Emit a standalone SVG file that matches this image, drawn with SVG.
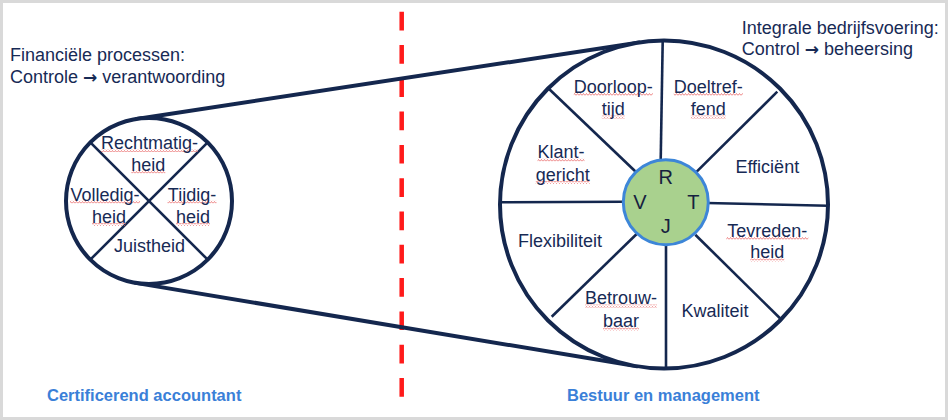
<svg xmlns="http://www.w3.org/2000/svg" width="948" height="420" viewBox="0 0 948 420">
  <defs>
    <pattern id="zig" width="3" height="3" patternUnits="userSpaceOnUse">
      <path d="M0 2.5 L1.5 0.5 L3 2.5" fill="none" stroke="#e86a6a" stroke-width="0.8"/>
    </pattern>
    <style>
      .lbl { font-family: "Liberation Sans", Arial, sans-serif; font-size: 18px; fill: #172a55; text-anchor: middle; }
      .hdr { font-family: "Liberation Sans", Arial, sans-serif; font-size: 18px; fill: #172a55; }
      .arr { font-family: "DejaVu Sans", sans-serif; font-weight: bold; font-size: 17px; }
      .big { font-family: "Liberation Sans", Arial, sans-serif; font-size: 20px; fill: #16213f; text-anchor: middle; }
      .foot { font-family: "Liberation Sans", Arial, sans-serif; font-size: 16.5px; font-weight: bold; fill: #3a80d8; }
      .ring { fill: #ffffff; stroke: #14274e; stroke-width: 4; }
      .spoke { stroke: #14274e; stroke-width: 2.6; fill: none; }
      .belt { stroke: #14274e; stroke-width: 4; fill: none; stroke-linecap: round; }
      .sq { fill: url(#zig); }
    </style>
  </defs>

  <rect x="1.5" y="1.5" width="945" height="417" fill="#ffffff" stroke="#d9d9d9" stroke-width="3"/>

  <!-- divider -->
  <line x1="401.7" y1="11.7" x2="401.7" y2="397" stroke="#ff1a1a" stroke-width="4.5" stroke-dasharray="18.7 14.6"/>

  <!-- connectors (belt) -->
  <g id="connectors">
    <line class="belt" x1="136.5" y1="119" x2="639.3" y2="42.4"/>
    <line class="belt" x1="135.4" y1="282.9" x2="637.1" y2="366.3"/>
  </g>

  <!-- headers -->
  <g id="header-left">
    <text class="hdr" x="10" y="61">Financiële processen:</text>
    <text class="hdr" x="10" y="83">Controle <tspan class="arr">→</tspan> verantwoording</text>
  </g>
  <g id="header-right">
    <text class="hdr" x="741.7" y="33.5">Integrale bedrijfsvoering:</text>
    <text class="hdr" x="741.7" y="55">Control <tspan class="arr">→</tspan> beheersing</text>
  </g>

  <!-- left circle -->
  <g id="left-circle">
    <circle class="ring" cx="149" cy="201" r="83"/>
    <line class="spoke" x1="90.3" y1="142.3" x2="207.7" y2="259.7"/>
    <line class="spoke" x1="207.7" y1="142.3" x2="90.3" y2="259.7"/>
    <rect class="sq" x="101" y="149" width="97" height="3"/>
    <rect class="sq" x="131.3" y="170.5" width="34" height="3"/>
    <rect class="sq" x="70" y="200.5" width="70" height="3"/>
    <rect class="sq" x="92" y="223" width="34" height="3"/>
    <rect class="sq" x="167.5" y="200.5" width="49" height="3"/>
    <rect class="sq" x="176" y="223" width="34" height="3"/>
    <text class="lbl" x="149.5" y="149.3">Rechtmatig-</text>
    <text class="lbl" x="148.3" y="170.7">heid</text>
    <text class="lbl" x="105" y="200.7">Volledig-</text>
    <text class="lbl" x="109" y="223.3">heid</text>
    <text class="lbl" x="192" y="200.7">Tijdig-</text>
    <text class="lbl" x="193" y="223.3">heid</text>
    <text class="lbl" x="149.5" y="251.7">Juistheid</text>
  </g>

  <!-- right circle -->
  <g id="right-circle">
    <circle class="ring" cx="664" cy="204.5" r="164"/>
    <line class="spoke" x1="662.7" y1="41" x2="660.7" y2="160"/>
    <line class="spoke" x1="666" y1="244" x2="666" y2="369"/>
    <line class="spoke" x1="500" y1="202.3" x2="624" y2="201.7"/>
    <line class="spoke" x1="707" y1="203" x2="828" y2="205.7"/>
    <line class="spoke" x1="548.3" y1="88.3" x2="636" y2="172"/>
    <line class="spoke" x1="777.3" y1="91.7" x2="694.7" y2="173.7"/>
    <line class="spoke" x1="551.7" y1="316.7" x2="637.7" y2="233"/>
    <line class="spoke" x1="780" y1="318.3" x2="695.3" y2="234.7"/>

    <rect class="sq" x="573.8" y="93" width="79" height="3"/>
    <rect class="sq" x="601.8" y="115.5" width="23" height="3"/>
    <rect class="sq" x="673.8" y="93" width="69" height="3"/>
    <rect class="sq" x="690.8" y="115.5" width="35" height="3"/>
    <rect class="sq" x="537.5" y="158.5" width="47" height="3"/>
    <rect class="sq" x="535.7" y="181" width="54" height="3"/>
    <rect class="sq" x="726.3" y="237" width="82" height="3"/>
    <rect class="sq" x="750.3" y="258.5" width="34" height="3"/>
    <rect class="sq" x="585" y="304.5" width="72" height="3"/>
    <rect class="sq" x="603" y="327.5" width="36" height="3"/>

    <text class="lbl" x="613.3" y="92.7">Doorloop-</text>
    <text class="lbl" x="613.3" y="115">tijd</text>
    <text class="lbl" x="708.3" y="92.7">Doeltref-</text>
    <text class="lbl" x="708.3" y="115">fend</text>
    <text class="lbl" x="561" y="158.3">Klant-</text>
    <text class="lbl" x="562.7" y="180.5">gericht</text>
    <text class="lbl" x="767.3" y="172.7">Efficiënt</text>
    <text class="lbl" x="560" y="247.3">Flexibiliteit</text>
    <text class="lbl" x="767.3" y="236.7">Tevreden-</text>
    <text class="lbl" x="767.3" y="258.3">heid</text>
    <text class="lbl" x="621" y="304.3">Betrouw-</text>
    <text class="lbl" x="621" y="327.3">baar</text>
    <text class="lbl" x="715" y="317.3">Kwaliteit</text>
  </g>

  <!-- core -->
  <g id="core">
    <circle cx="665.8" cy="202.2" r="42.5" fill="#a9d18e" stroke="#3d86d8" stroke-width="3"/>
    <text class="big" x="665.7" y="184">R</text>
    <text class="big" x="640" y="209">V</text>
    <text class="big" x="693.3" y="209">T</text>
    <text class="big" x="665.7" y="233">J</text>
  </g>

  <!-- footers -->
  <g id="footer-left">
    <text class="foot" x="47" y="401">Certificerend accountant</text>
  </g>
  <g id="footer-right">
    <text class="foot" x="567" y="401">Bestuur en management</text>
  </g>
</svg>
